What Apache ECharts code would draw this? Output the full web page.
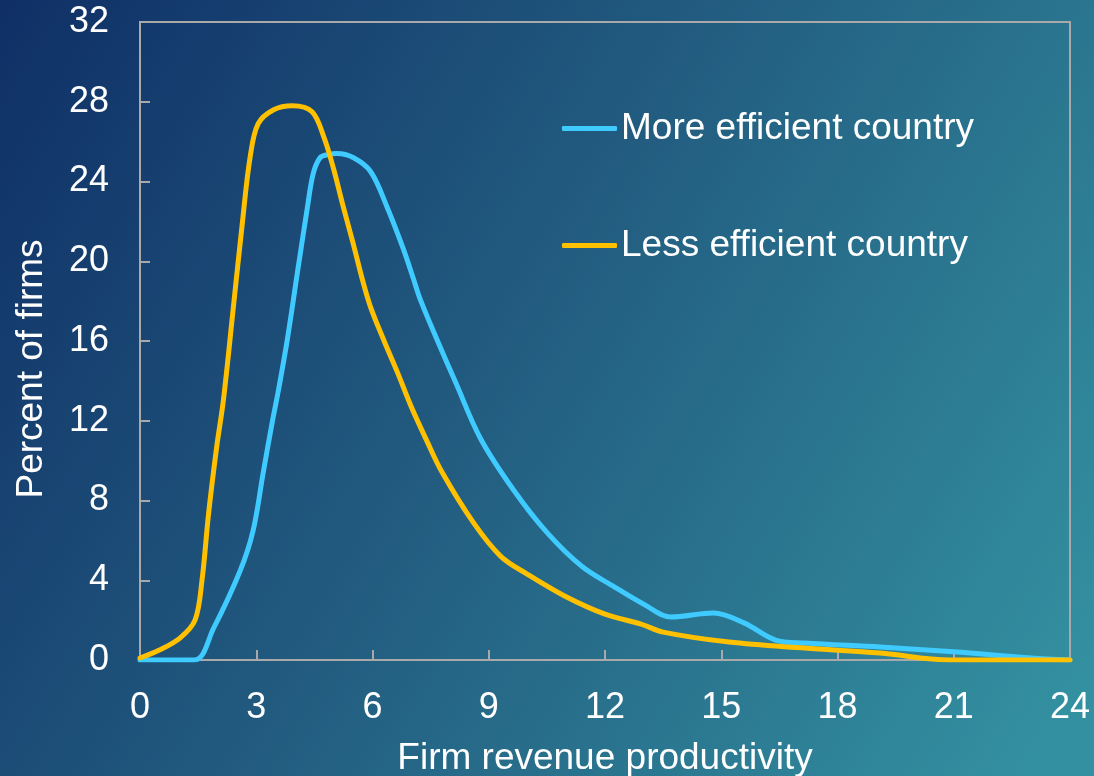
<!DOCTYPE html>
<html>
<head>
<meta charset="utf-8">
<title>Firm revenue productivity distribution</title>
<script src="https://cdn.jsdelivr.net/npm/echarts@6/dist/echarts.min.js"></script>
<style>
  html, body { margin: 0; padding: 0; width: 1094px; height: 776px; overflow: hidden; }
  #chart { width: 1094px; height: 776px; }
</style>
</head>
<body>
<div id="chart"></div>
<script>
// Series names
const seriesNames = ['More efficient country', 'Less efficient country'];

// More efficient country: productivity (x) and percent of firms (y)
const moreX = [0, 1.4, 1.9, 2.59, 2.92, 3.18, 3.41, 3.57, 3.8, 4.06, 4.32, 4.47, 4.65, 4.86, 5.08, 5.5, 5.95, 6.38, 6.8, 7.06, 7.24, 7.68, 8.15, 8.79, 9.65, 10.5, 11.4, 12.25, 13.0, 13.7, 14.8, 15.6, 16.4, 17.15, 19.1, 21.1, 23.0, 24];
const moreY = [0, 0, 1.6, 4.5, 6.5, 9.4, 11.9, 13.5, 16.05, 19.4, 22.7, 24.4, 25.2, 25.35, 25.4, 25.2, 24.5, 22.7, 20.6, 19.1, 18.05, 16.0, 13.9, 11.1, 8.5, 6.4, 4.7, 3.66, 2.8, 2.16, 2.36, 1.85, 1.0, 0.85, 0.65, 0.4, 0.1, 0];

// Less efficient country: productivity (x) and percent of firms (y)
const lessX = [0, 0.5, 1.03, 1.42, 1.6, 1.77, 1.98, 2.15, 2.41, 2.64, 2.84, 3.05, 3.45, 3.93, 4.44, 4.75, 5.0, 5.25, 5.5, 5.75, 5.95, 6.3, 6.65, 7.0, 7.4, 7.8, 8.6, 9.31, 10.0, 10.97, 12.0, 12.93, 13.5, 15.2, 17.15, 19.1, 20.9, 24];
const lessY = [0.1, 0.5, 1.1, 2.0, 4.0, 7.35, 10.7, 13.0, 17.7, 21.9, 25.2, 26.9, 27.6, 27.8, 27.5, 26.2, 24.6, 22.7, 20.9, 19.0, 17.7, 16.0, 14.4, 12.7, 11.0, 9.4, 6.9, 5.2, 4.3, 3.2, 2.3, 1.8, 1.4, 0.9, 0.6, 0.35, 0, 0];

// Axis scales and titles
const xTicks = { min: 0, max: 24, interval: 3 };
const yTicks = { min: 0, max: 32, interval: 4 };
const xTitle = 'Firm revenue productivity';
const yTitle = 'Percent of firms';

const pairs = (xs, ys) => xs.map((x, i) => [x, ys[i]]);

const FONT = '"Liberation Sans", Arial, sans-serif';
const AXIS_GRAY = '#a9a9a9';

const chart = echarts.init(document.getElementById('chart'), null, { renderer: 'canvas' });

chart.setOption({
  backgroundColor: new echarts.graphic.LinearGradient(0, 0, 1, 0.85, [
    { offset: 0, color: '#0f2f66' },
    { offset: 0.45, color: '#21597e' },
    { offset: 1, color: '#3390a0' }
  ]),
  textStyle: { fontFamily: FONT },
  animation: false,
  grid: {
    left: 140, right: 24, top: 22, bottom: 116,
    outerBoundsMode: 'none',
    containLabel: false,
    show: true, borderColor: AXIS_GRAY, borderWidth: 2, backgroundColor: 'transparent'
  },
  legend: {
    orient: 'vertical',
    left: 562,
    top: 110,
    padding: 0,
    itemWidth: 55,
    itemHeight: 5,
    itemGap: 80,
    icon: 'roundRect',
    textStyle: { color: '#ffffff', fontSize: 37, fontFamily: FONT, padding: [0, 0, 0, -1] },
    data: seriesNames
  },
  xAxis: {
    type: 'value',
    min: xTicks.min, max: xTicks.max, interval: xTicks.interval,
    name: xTitle,
    nameLocation: 'middle',
    nameGap: 80,
    nameTextStyle: { color: '#ffffff', fontSize: 37, fontFamily: FONT },
    axisLine: { show: true, lineStyle: { color: AXIS_GRAY, width: 2 } },
    axisTick: { show: true, inside: true, length: 10, lineStyle: { color: AXIS_GRAY, width: 2 } },
    axisLabel: { color: '#ffffff', fontSize: 36, margin: 30, fontFamily: FONT },
    splitLine: { show: false }
  },
  yAxis: {
    type: 'value',
    min: yTicks.min, max: yTicks.max, interval: yTicks.interval,
    name: yTitle,
    nameLocation: 'middle',
    nameGap: 90,
    nameTextStyle: { color: '#ffffff', fontSize: 37, fontFamily: FONT, padding: [0, 56, 0, 0] },
    axisLine: { show: true, lineStyle: { color: AXIS_GRAY, width: 2 } },
    axisTick: { show: true, inside: true, length: 10, lineStyle: { color: AXIS_GRAY, width: 2 } },
    axisLabel: { color: '#ffffff', fontSize: 36, margin: 31, fontFamily: FONT },
    splitLine: { show: false }
  },
  series: [
    {
      name: seriesNames[0],
      type: 'line',
      data: pairs(moreX, moreY),
      smooth: 0.35,
      showSymbol: false,
      symbol: 'none',
      color: '#3fcbff',
      lineStyle: { color: '#3fcbff', width: 5, cap: 'round', join: 'round' },
      z: 3
    },
    {
      name: seriesNames[1],
      type: 'line',
      data: pairs(lessX, lessY),
      smooth: 0.35,
      showSymbol: false,
      symbol: 'none',
      color: '#ffc000',
      lineStyle: { color: '#ffc000', width: 5, cap: 'round', join: 'round' },
      z: 4
    }
  ]
});
</script>
</body>
</html>
